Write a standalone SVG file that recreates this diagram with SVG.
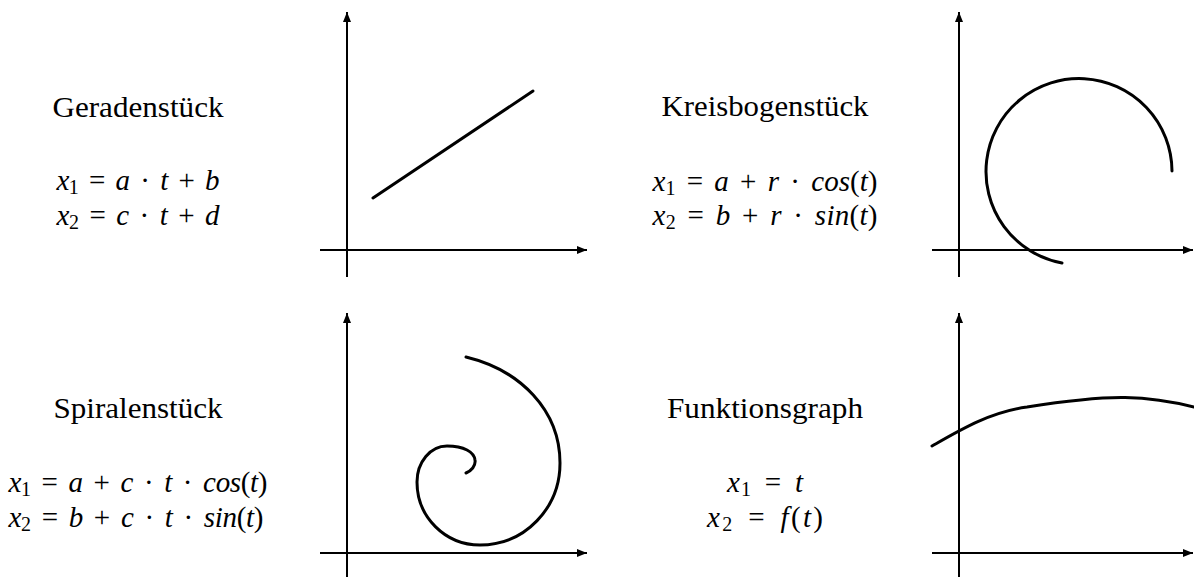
<svg xmlns="http://www.w3.org/2000/svg" width="1194" height="577" viewBox="0 0 1194 577">
<defs>
<marker id="arr" markerUnits="userSpaceOnUse" markerWidth="12" markerHeight="10" refX="10" refY="4" orient="auto">
<path d="M0,0 L10,4 L0,8 Z" fill="#000"/>
</marker>
<style>
.ax{stroke:#000;stroke-width:2;fill:none;marker-end:url(#arr)}
.cv{stroke:#000;stroke-width:3;fill:none;stroke-linecap:round;stroke-linejoin:round}
.h{font-size:30px;fill:#000;text-anchor:middle}
.t{font-size:29px;fill:#000;text-anchor:middle;word-spacing:4px}
.i{font-style:italic}
.s{font-size:20px}
</style>
</defs>
<rect width="1194" height="577" fill="#fff"/>

<g id="geradenstueck" font-family="Liberation Serif, serif">
<text class="h" x="138" y="117" textLength="171" lengthAdjust="spacingAndGlyphs">Geradenstück</text>
<text class="t" x="138" y="190" textLength="163" lengthAdjust="spacing"><tspan class="i">x</tspan><tspan class="s" dy="4">1</tspan><tspan dy="-4"> = </tspan><tspan class="i">a</tspan> · <tspan class="i">t</tspan> + <tspan class="i">b</tspan></text>
<text class="t" x="138" y="225" textLength="163" lengthAdjust="spacing"><tspan class="i">x</tspan><tspan class="s" dy="4">2</tspan><tspan dy="-4"> = </tspan><tspan class="i">c</tspan> · <tspan class="i">t</tspan> + <tspan class="i">d</tspan></text>
<line class="ax" x1="347" y1="277" x2="347" y2="12"/>
<line class="ax" x1="320" y1="250" x2="587" y2="250"/>
<path class="cv" d="M373,198 L533,91"/>
</g>

<g id="kreisbogenstueck" font-family="Liberation Serif, serif">
<text class="h" x="765" y="116" textLength="207" lengthAdjust="spacingAndGlyphs">Kreisbogenstück</text>
<text class="t" x="765" y="191" textLength="225" lengthAdjust="spacing"><tspan class="i">x</tspan><tspan class="s" dy="4">1</tspan><tspan dy="-4"> = </tspan><tspan class="i">a</tspan> + <tspan class="i">r</tspan> · <tspan class="i">cos</tspan>(<tspan class="i">t</tspan>)</text>
<text class="t" x="765" y="225" textLength="225" lengthAdjust="spacing"><tspan class="i">x</tspan><tspan class="s" dy="4">2</tspan><tspan dy="-4"> = </tspan><tspan class="i">b</tspan> + <tspan class="i">r</tspan> · <tspan class="i">sin</tspan>(<tspan class="i">t</tspan>)</text>
<line class="ax" x1="959" y1="277" x2="959" y2="12"/>
<line class="ax" x1="932" y1="250" x2="1193" y2="250"/>
<path class="cv" d="M1062,263 A93,93 0 1 1 1172,171"/>
</g>

<g id="spiralenstueck" font-family="Liberation Serif, serif">
<text class="h" x="138" y="418" textLength="169" lengthAdjust="spacingAndGlyphs">Spiralenstück</text>
<text class="t" x="138" y="492" textLength="259" lengthAdjust="spacing"><tspan class="i">x</tspan><tspan class="s" dy="4">1</tspan><tspan dy="-4"> = </tspan><tspan class="i">a</tspan> + <tspan class="i">c</tspan> · <tspan class="i">t</tspan> · <tspan class="i">cos</tspan>(<tspan class="i">t</tspan>)</text>
<text class="t" x="136" y="527" textLength="255" lengthAdjust="spacing"><tspan class="i">x</tspan><tspan class="s" dy="4">2</tspan><tspan dy="-4"> = </tspan><tspan class="i">b</tspan> + <tspan class="i">c</tspan> · <tspan class="i">t</tspan> · <tspan class="i">sin</tspan>(<tspan class="i">t</tspan>)</text>
<line class="ax" x1="347" y1="580" x2="347" y2="313"/>
<line class="ax" x1="320" y1="553" x2="587" y2="553"/>
<path class="cv" d="M466,473 C471,471 476,466 475,460 C474,452 464,446 447,446 C430.5,446 417,462 417,482 C417,517 445,545 480,545 C525,545 560,508 560,463 C560,410 520,370 466,357"/>
</g>

<g id="funktionsgraph" font-family="Liberation Serif, serif">
<text class="h" x="765" y="418" textLength="196" lengthAdjust="spacingAndGlyphs">Funktionsgraph</text>
<text class="t" x="765" y="492" textLength="76" lengthAdjust="spacing"><tspan class="i">x</tspan><tspan class="s" dy="4">1</tspan><tspan dy="-4"> = </tspan><tspan class="i">t</tspan></text>
<text class="t" x="765" y="527" textLength="116" lengthAdjust="spacing"><tspan class="i">x</tspan><tspan class="s" dy="4">2</tspan><tspan dy="-4"> = </tspan><tspan class="i">f</tspan>(<tspan class="i">t</tspan>)</text>
<line class="ax" x1="959" y1="580" x2="959" y2="313"/>
<line class="ax" x1="932" y1="553" x2="1193" y2="553"/>
<path class="cv" d="M932,446 C960,430 990,412 1027,407 C1065,401 1095,397 1125,397.5 C1150,398 1170,401 1194,407"/>
</g>

<g id="connectors"/>
</svg>
